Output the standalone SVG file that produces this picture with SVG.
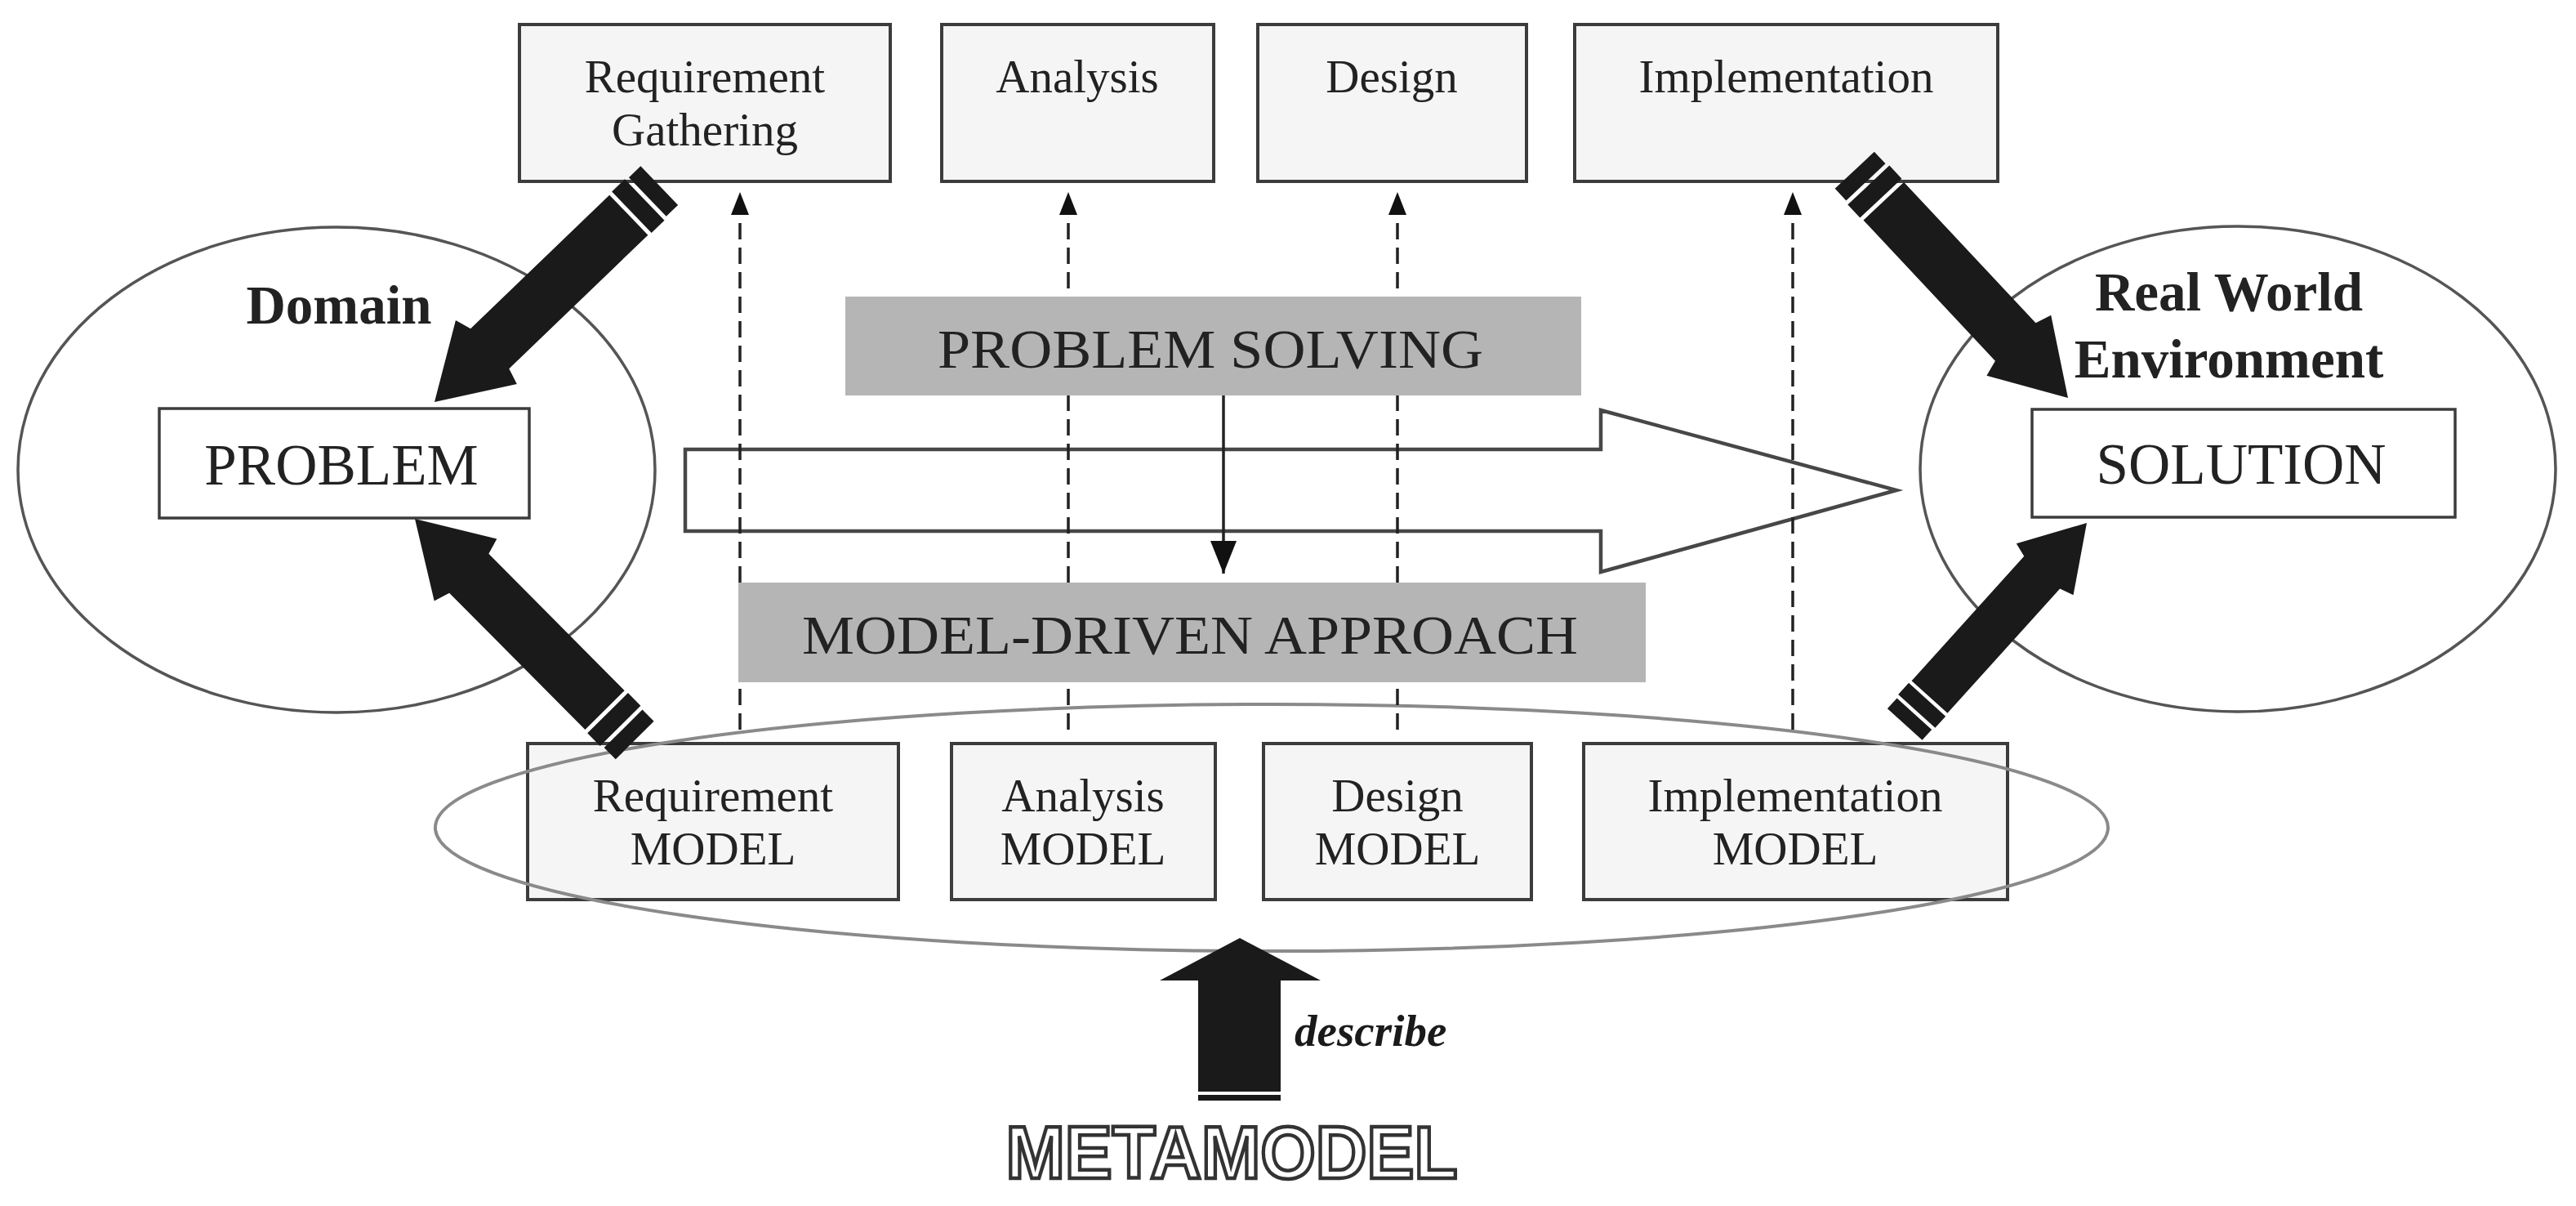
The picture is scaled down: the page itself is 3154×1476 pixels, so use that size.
<svg xmlns="http://www.w3.org/2000/svg" width="3154" height="1476" viewBox="0 0 3154 1476">
<style>
.bg{fill:#ffffff}
.box{fill:#f5f5f5;stroke:#3c3c3c;stroke-width:4}
.wbox{fill:#ffffff;stroke:#3c3c3c;stroke-width:3.5}
.oval{fill:none;stroke:#555555;stroke-width:3.5}
.goval{fill:none;stroke:#8a8a8a;stroke-width:4}
.band{fill:#b5b5b5}
.t{font-family:"Liberation Serif","Times New Roman",serif;fill:#222222;text-anchor:middle}
.lbl{font-size:57px}
.big{font-size:71px}
.hd{font-size:67px;font-weight:bold}
.bandt{font-size:68px}
.dash{fill:none;stroke:#222222;stroke-width:3.5;stroke-dasharray:20 10;marker-end:url(#tri)}
.solid{fill:none;stroke:#222222;stroke-width:3.5;marker-end:url(#tri2)}
.blk{fill:#1a1a1a}
.hollow{fill:none;stroke:#474747;stroke-width:4.5;stroke-linejoin:miter}
.meta{font-family:"Liberation Sans",Arial,sans-serif;font-weight:bold;font-size:90px;fill:#ffffff;stroke:#333333;stroke-width:4.5;text-anchor:middle}
.desc{font-family:"Liberation Serif","Times New Roman",serif;font-weight:bold;font-style:italic;font-size:55px;fill:#1a1a1a}
</style>
<defs>
<marker id="tri" markerUnits="userSpaceOnUse" markerWidth="28" markerHeight="22" viewBox="0 0 28 22" refX="28" refY="11" orient="auto">
<path d="M0,0 L28,11 L0,22 Z" fill="#111111"/>
</marker>
<marker id="tri2" markerUnits="userSpaceOnUse" markerWidth="40" markerHeight="32" viewBox="0 0 40 32" refX="40" refY="16" orient="auto">
<path d="M0,0 L40,16 L0,32 Z" fill="#111111"/>
</marker>
<g id="fatArrow">
<path class="blk" d="M0,0 L-88,-54 L-94,-34 L-330,-34 L-330,34 L-94,34 L-88,54 Z"/>
<rect class="blk" x="-357" y="-35" width="22" height="70"/>
<rect class="blk" x="-382" y="-33" width="20" height="66"/>
</g>
</defs>
<rect class="bg" x="0" y="0" width="3154" height="1476"/>

<g id="domain">
<ellipse class="oval" cx="412" cy="575" rx="390" ry="297"/>
<text class="t hd" x="415" y="396">Domain</text>
</g>
<g id="problem">
<rect class="wbox" x="195" y="500" width="453" height="134"/>
<text class="t big" x="418" y="593">PROBLEM</text>
</g>
<g id="real-world">
<ellipse class="oval" cx="2740" cy="574" rx="389" ry="297"/>
<text class="t hd" x="2729" y="380">Real World</text>
<text class="t hd" x="2729" y="462">Environment</text>
</g>
<g id="solution">
<rect class="wbox" x="2488" y="501" width="518" height="132"/>
<text class="t big" x="2744" y="592">SOLUTION</text>
</g>

<g id="req-gathering">
<rect class="box" x="636" y="30" width="454" height="192"/>
<text class="t lbl" x="863" y="113">Requirement</text>
<text class="t lbl" x="863" y="178">Gathering</text>
</g>
<g id="analysis">
<rect class="box" x="1153" y="30" width="333" height="192"/>
<text class="t lbl" x="1319" y="113">Analysis</text>
</g>
<g id="design">
<rect class="box" x="1540" y="30" width="329" height="192"/>
<text class="t lbl" x="1704" y="113">Design</text>
</g>
<g id="implementation">
<rect class="box" x="1928" y="30" width="518" height="192"/>
<text class="t lbl" x="2187" y="113">Implementation</text>
</g>

<g id="req-model">
<rect class="box" x="646" y="910" width="454" height="191"/>
<text class="t lbl" x="873" y="993">Requirement</text>
<text class="t lbl" x="873" y="1058">MODEL</text>
</g>
<g id="analysis-model">
<rect class="box" x="1165" y="910" width="323" height="191"/>
<text class="t lbl" x="1326" y="993">Analysis</text>
<text class="t lbl" x="1326" y="1058">MODEL</text>
</g>
<g id="design-model">
<rect class="box" x="1547" y="910" width="328" height="191"/>
<text class="t lbl" x="1711" y="993">Design</text>
<text class="t lbl" x="1711" y="1058">MODEL</text>
</g>
<g id="impl-model">
<rect class="box" x="1939" y="910" width="519" height="191"/>
<text class="t lbl" x="2198" y="993">Implementation</text>
<text class="t lbl" x="2198" y="1058">MODEL</text>
</g>

<g id="model-group">
<ellipse class="goval" cx="1557" cy="1013" rx="1024" ry="151"/>
</g>

<g id="connectors">
<path class="hollow" d="M839,550 L1960,550 L1960,502 L2322,600 L1960,700 L1960,650 L839,650 Z"/>
<line class="dash" x1="906" y1="893" x2="906" y2="235"/>
<line class="dash" x1="1308" y1="893" x2="1308" y2="235"/>
<line class="dash" x1="1711" y1="893" x2="1711" y2="235"/>
<line class="dash" x1="2195" y1="893" x2="2195" y2="235"/>
<use href="#fatArrow" transform="translate(532,492) rotate(136.1)"/>
<use href="#fatArrow" transform="translate(508,635) rotate(-134.8)"/>
<use href="#fatArrow" transform="translate(2532,487) rotate(46.85)"/>
<use href="#fatArrow" transform="translate(2555,640) rotate(-47.9) scale(0.87)"/>
<line class="solid" x1="1498" y1="484" x2="1498" y2="702"/>
<path class="blk" d="M1518,1148 L1617,1200 L1568,1200 L1568,1336 L1467,1336 L1467,1200 L1420,1200 Z"/>
<rect class="blk" x="1467" y="1340" width="101" height="7"/>
<text class="desc" x="1585" y="1280">describe</text>
</g>

<g id="problem-solving">
<rect class="band" x="1035" y="363" width="901" height="121"/>
<text class="t bandt" x="1482" y="450" textLength="668" lengthAdjust="spacingAndGlyphs">PROBLEM SOLVING</text>
</g>
<g id="model-driven">
<rect class="band" x="904" y="713" width="1111" height="122"/>
<text class="t bandt" x="1457" y="800" textLength="950" lengthAdjust="spacingAndGlyphs">MODEL-DRIVEN APPROACH</text>
</g>
<g id="metamodel">
<text class="meta" x="1508" y="1442" textLength="553" lengthAdjust="spacingAndGlyphs">METAMODEL</text>
</g>
</svg>
